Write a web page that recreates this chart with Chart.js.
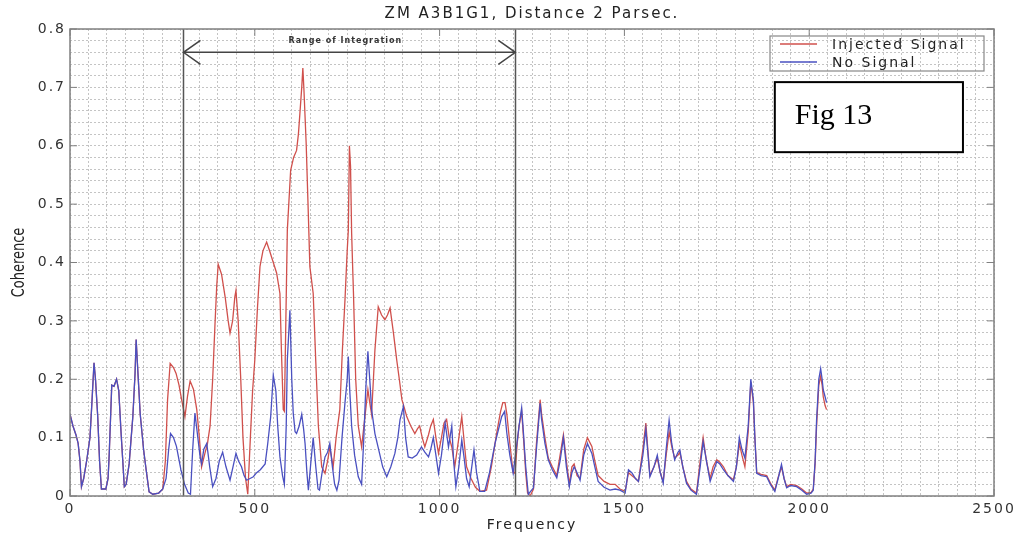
<!DOCTYPE html>
<html>
<head>
<meta charset="utf-8">
<title>ZM A3B1G1, Distance 2 Parsec.</title>
<script src="https://cdn.jsdelivr.net/npm/chart.js@4.4.1/dist/chart.umd.min.js"></script>
<style>
  html, body { margin: 0; padding: 0; background: #fff; overflow: hidden; }
  canvas { display: block; }
</style>
</head>
<body>
<canvas id="coh" width="1029" height="544"></canvas>
<script>
// Coherence vs frequency.
// Below ~250 Hz both curves lie on top of each other.
const lowFreq = [0, 8, 16, 22, 27, 31, 37, 45, 54, 58, 65, 69, 75, 80, 85, 97, 103, 106, 113, 119,
  126, 132, 138, 147, 152, 160, 170, 176, 179, 183, 190, 199, 206, 214, 224, 240, 251];
const lowVal = [0.14, 0.12, 0.105, 0.09, 0.06, 0.016, 0.03, 0.06, 0.1, 0.145, 0.228, 0.2, 0.136, 0.06, 0.012, 0.012, 0.03, 0.07, 0.19, 0.188,
  0.2, 0.18, 0.11, 0.016, 0.02, 0.055, 0.136, 0.21, 0.268, 0.22, 0.14, 0.08, 0.045, 0.007, 0.003, 0.005, 0.012];

// Injected Signal (red)
const injFreq = [
  258, 264, 271, 280, 287, 295, 302, 311, 318, 325,
  334, 343, 350, 356, 365, 372, 379, 386, 392, 397,
  401, 410, 420, 428, 433, 440, 446, 449, 455, 462,
  468, 475, 481, 488, 494, 500, 507, 514, 522, 532,
  540, 550, 559, 568, 572, 577, 580, 584, 588, 597,
  605, 613, 618, 622, 627, 630, 633, 639, 644, 649,
  658, 665, 672, 681, 690, 697, 703, 712, 720, 730,
  737, 744, 750, 753, 756, 759, 762, 765, 767, 773,
  780, 789, 797, 806, 811, 816, 825, 834, 843, 852,
  859, 866, 875, 884, 891, 898, 905, 911, 922, 933,
  940, 946, 953, 960, 970, 976, 983, 990, 997, 1005,
  1012, 1019, 1026, 1033, 1041, 1050, 1060, 1067, 1073, 1085,
  1097, 1109, 1127, 1140, 1155, 1165, 1171, 1177, 1182, 1190,
  1199, 1204, 1210, 1215, 1222, 1227, 1233, 1238, 1245, 1254,
  1262, 1272, 1276, 1285, 1294, 1305, 1317, 1326, 1335, 1343,
  1351, 1358, 1364, 1372, 1380, 1390, 1400, 1412, 1420, 1429,
  1445, 1461, 1475, 1488, 1502, 1511, 1520, 1530, 1538, 1550,
  1558, 1564, 1569, 1580, 1589, 1597, 1605, 1613, 1621, 1628,
  1636, 1645, 1650, 1658, 1668, 1680, 1695, 1705, 1713, 1722,
  1732, 1740, 1750, 1758, 1768, 1780, 1795, 1803, 1811, 1818,
  1826, 1835, 1842, 1849, 1853, 1858, 1870, 1885, 1895, 1907,
  1916, 1925, 1932, 1939, 1950, 1966, 1980, 1993, 2005, 2011,
  2016, 2020, 2026, 2031, 2035, 2038, 2043, 2047];
const injVal = [
  0.06, 0.165, 0.227, 0.22, 0.21, 0.19, 0.165, 0.136, 0.171, 0.197,
  0.183, 0.148, 0.1, 0.05, 0.073, 0.09, 0.12, 0.2, 0.29, 0.36,
  0.397, 0.38, 0.34, 0.3, 0.279, 0.3, 0.341, 0.352, 0.3, 0.2,
  0.1, 0.03, 0.003, 0.1, 0.18, 0.233, 0.32, 0.393, 0.42, 0.435,
  0.42, 0.4, 0.382, 0.347, 0.25, 0.148, 0.145, 0.3, 0.455, 0.558,
  0.58, 0.592, 0.62, 0.655, 0.7, 0.733, 0.695, 0.604, 0.5, 0.393,
  0.347, 0.23, 0.12, 0.05, 0.039, 0.06, 0.084, 0.05, 0.1, 0.148,
  0.25, 0.336, 0.42, 0.455, 0.6, 0.565, 0.45, 0.387, 0.347, 0.2,
  0.12, 0.084, 0.13, 0.182, 0.16, 0.14, 0.25, 0.324, 0.31, 0.302,
  0.31, 0.322, 0.28, 0.233, 0.2, 0.165, 0.15, 0.136, 0.12, 0.107,
  0.115, 0.12, 0.1, 0.084, 0.105, 0.12, 0.131, 0.1, 0.073, 0.1,
  0.125, 0.131, 0.1, 0.084, 0.05, 0.09, 0.136, 0.09, 0.05, 0.03,
  0.015, 0.008, 0.01, 0.05, 0.11, 0.145, 0.16, 0.16, 0.14, 0.09,
  0.04, 0.039, 0.09, 0.12, 0.145, 0.1, 0.04, 0.005, 0, 0.012,
  0.09, 0.165, 0.14, 0.1, 0.065, 0.05, 0.035, 0.07, 0.105, 0.06,
  0.02, 0.05, 0.055, 0.035, 0.03, 0.08, 0.1, 0.085, 0.06, 0.035,
  0.025, 0.02, 0.02, 0.012, 0.008, 0.04, 0.035, 0.03, 0.025, 0.08,
  0.125, 0.075, 0.035, 0.05, 0.065, 0.04, 0.025, 0.07, 0.11, 0.085,
  0.065, 0.07, 0.075, 0.05, 0.025, 0.012, 0.005, 0.06, 0.1, 0.06,
  0.03, 0.05, 0.062, 0.058, 0.05, 0.035, 0.028, 0.05, 0.09, 0.07,
  0.05, 0.11, 0.195, 0.16, 0.1, 0.04, 0.037, 0.035, 0.022, 0.01,
  0.032, 0.05, 0.03, 0.016, 0.02, 0.018, 0.012, 0.005, 0.006, 0.012,
  0.055, 0.12, 0.19, 0.205, 0.19, 0.17, 0.155, 0.148];

// No Signal (blue)
const noFreq = [
  260, 267, 272, 280, 288, 300, 310, 320, 326, 332,
  338, 344, 352, 356, 362, 370, 378, 386, 395, 404,
  413, 422, 433, 441, 449, 456, 464, 471, 478, 487,
  496, 505, 515, 528, 535, 543, 550, 557, 562, 568,
  575, 580, 585, 588, 595, 600, 604, 609, 613, 620,
  627, 632, 636, 641, 645, 652, 658, 665, 671, 675,
  682, 690, 697, 703, 710, 716, 722, 728, 736, 744,
  750, 753, 757, 762, 770, 780, 789, 795, 800, 806,
  812, 816, 825, 835, 846, 857, 868, 879, 887, 893,
  902, 908, 915, 926, 938, 951, 960, 970, 976, 983,
  990, 997, 1005, 1015, 1024, 1033, 1038, 1044, 1052, 1060,
  1067, 1073, 1080, 1087, 1093, 1100, 1109, 1122, 1135, 1150,
  1168, 1176, 1182, 1190, 1199, 1208, 1215, 1222, 1227, 1233,
  1240, 1254, 1262, 1272, 1276, 1285, 1294, 1305, 1317, 1326,
  1335, 1343, 1351, 1358, 1364, 1372, 1380, 1390, 1400, 1412,
  1420, 1429, 1445, 1461, 1475, 1488, 1502, 1511, 1520, 1530,
  1538, 1550, 1558, 1564, 1569, 1580, 1589, 1597, 1605, 1613,
  1621, 1628, 1636, 1645, 1650, 1658, 1668, 1680, 1695, 1705,
  1713, 1722, 1732, 1740, 1750, 1758, 1768, 1780, 1795, 1803,
  1811, 1818, 1826, 1835, 1842, 1849, 1853, 1858, 1870, 1885,
  1895, 1907, 1916, 1925, 1932, 1939, 1950, 1966, 1980, 1993,
  2005, 2011, 2016, 2020, 2026, 2031, 2035, 2038, 2043, 2047];
const noVal = [
  0.03, 0.08, 0.107, 0.1, 0.085, 0.045, 0.02, 0.005, 0.003, 0.08,
  0.142, 0.11, 0.067, 0.055, 0.08, 0.09, 0.05, 0.016, 0.03, 0.06,
  0.075, 0.05, 0.027, 0.05, 0.073, 0.06, 0.05, 0.035, 0.027, 0.03,
  0.033, 0.04, 0.045, 0.055, 0.09, 0.136, 0.207, 0.18, 0.12, 0.067,
  0.035, 0.02, 0.12, 0.233, 0.318, 0.2, 0.142, 0.11, 0.107, 0.12,
  0.14, 0.115, 0.09, 0.04, 0.01, 0.06, 0.1, 0.05, 0.012, 0.01,
  0.04, 0.067, 0.075, 0.09, 0.05, 0.02, 0.01, 0.027, 0.1, 0.16,
  0.2, 0.239, 0.18, 0.12, 0.07, 0.033, 0.02, 0.1, 0.18, 0.248,
  0.19, 0.148, 0.107, 0.08, 0.05, 0.033, 0.05, 0.073, 0.1, 0.131,
  0.153, 0.1, 0.067, 0.065, 0.07, 0.084, 0.075, 0.067, 0.08, 0.1,
  0.07, 0.039, 0.07, 0.125, 0.084, 0.12, 0.06, 0.016, 0.05, 0.096,
  0.062, 0.03, 0.016, 0.05, 0.079, 0.04, 0.008, 0.008, 0.04, 0.09,
  0.136, 0.145, 0.107, 0.07, 0.039, 0.084, 0.12, 0.151, 0.107, 0.05,
  0.003, 0.014, 0.08, 0.159, 0.131, 0.09, 0.062, 0.045, 0.031, 0.06,
  0.1, 0.05, 0.016, 0.04, 0.05, 0.04, 0.027, 0.07, 0.09, 0.073,
  0.05, 0.025, 0.015, 0.01, 0.012, 0.01, 0.005, 0.045, 0.04, 0.03,
  0.025, 0.07, 0.114, 0.07, 0.033, 0.05, 0.07, 0.04, 0.022, 0.08,
  0.13, 0.09, 0.062, 0.075, 0.079, 0.05, 0.022, 0.01, 0.003, 0.05,
  0.093, 0.06, 0.025, 0.04, 0.059, 0.055, 0.045, 0.035, 0.025, 0.05,
  0.1, 0.08, 0.065, 0.12, 0.2, 0.165, 0.1, 0.039, 0.035, 0.033,
  0.02, 0.008, 0.03, 0.054, 0.03, 0.014, 0.018, 0.016, 0.01, 0.003,
  0.005, 0.01, 0.06, 0.131, 0.2, 0.218, 0.2, 0.182, 0.17, 0.16];

// axis labels
const xMajor = [0, 500, 1000, 1500, 2000, 2500];
const yMajor = [0, 0.1, 0.2, 0.3, 0.4, 0.5, 0.6, 0.7, 0.8];

// integration range markers (Hz) and the arrow height
const rangeLo = 307;
const rangeHi = 1205;
const arrowY = 0.76;
const rangeText = 'Range of Integration';
const figLabel = 'Fig 13';
const figBox = { x0: 1907, x1: 2416, y0: 0.589, y1: 0.709 };

const RED = '#d0504c';
const BLUE = '#4a50c0';
const FONT = '"DejaVu Sans", Verdana, sans-serif';
const SPACING = '2px';

const pts = (fx, fy) => fx.map((f, i) => ({ x: f, y: fy[i] }));

// frame, MATLAB-ish inner ticks, integration markers, legend, figure label
const notes = {
  id: 'notes',
  beforeLayout(chart) { chart.ctx.letterSpacing = SPACING; },
  beforeDraw(chart) { chart.ctx.letterSpacing = SPACING; },
  afterDatasetsDraw(chart) {
    const { ctx, chartArea: a, scales: { x, y } } = chart;
    ctx.save();
    ctx.strokeStyle = '#555';
    ctx.lineWidth = 1.5;
    ctx.beginPath();
    [rangeLo, rangeHi].forEach(f => {
      const px = Math.round(x.getPixelForValue(f)) + 0.5;
      ctx.moveTo(px, a.top);
      ctx.lineTo(px, a.bottom);
    });
    ctx.stroke();

    // double arrow
    const xl = x.getPixelForValue(rangeLo), xr = x.getPixelForValue(rangeHi);
    const ay = y.getPixelForValue(arrowY);
    ctx.strokeStyle = '#444';
    ctx.beginPath();
    ctx.moveTo(xl, ay); ctx.lineTo(xr, ay);
    ctx.moveTo(xl + 17, ay - 12); ctx.lineTo(xl, ay); ctx.lineTo(xl + 17, ay + 12);
    ctx.moveTo(xr - 17, ay - 12); ctx.lineTo(xr, ay); ctx.lineTo(xr - 17, ay + 12);
    ctx.stroke();

    ctx.letterSpacing = '1px';
    ctx.fillStyle = '#333';
    ctx.font = 'bold 8px ' + FONT;
    ctx.textAlign = 'center';
    ctx.textBaseline = 'middle';
    ctx.fillText(rangeText, x.getPixelForValue(745), y.getPixelForValue(0.779));
    ctx.restore();
  },
  afterDraw(chart) {
    const { ctx, chartArea: a, scales: { x, y } } = chart;
    ctx.save();
    // frame
    ctx.strokeStyle = '#808080';
    ctx.lineWidth = 1.5;
    ctx.strokeRect(a.left, a.top, a.right - a.left, a.bottom - a.top);
    // inward major ticks
    ctx.lineWidth = 1;
    ctx.beginPath();
    xMajor.forEach(v => {
      const px = x.getPixelForValue(v);
      ctx.moveTo(px, a.bottom); ctx.lineTo(px, a.bottom - 7);
      ctx.moveTo(px, a.top); ctx.lineTo(px, a.top + 7);
    });
    yMajor.forEach(v => {
      const py = y.getPixelForValue(v);
      ctx.moveTo(a.left, py); ctx.lineTo(a.left + 7, py);
      ctx.moveTo(a.right, py); ctx.lineTo(a.right - 7, py);
    });
    ctx.stroke();

    // legend box, top right
    const lw = 214, lh = 35;
    const lx = a.right - 224, ly = a.top + 7;
    ctx.strokeStyle = '#888';
    ctx.lineWidth = 1.2;
    ctx.strokeRect(lx, ly, lw, lh);
    ctx.font = '14px ' + FONT;
    ctx.letterSpacing = SPACING;
    ctx.fillStyle = '#222';
    ctx.textAlign = 'left';
    ctx.textBaseline = 'middle';
    chart.data.datasets.forEach((ds, i) => {
      const ry = ly + 8 + i * 18;
      ctx.strokeStyle = ds.borderColor;
      ctx.lineWidth = 1.3;
      ctx.beginPath();
      ctx.moveTo(lx + 10, ry); ctx.lineTo(lx + 47, ry);
      ctx.stroke();
      ctx.fillText(ds.label, lx + 62, ry + 1);
    });

    // Fig 13 box
    const bx0 = x.getPixelForValue(figBox.x0), bx1 = x.getPixelForValue(figBox.x1);
    const by0 = y.getPixelForValue(figBox.y1), by1 = y.getPixelForValue(figBox.y0);
    ctx.fillStyle = '#fff';
    ctx.fillRect(bx0, by0, bx1 - bx0, by1 - by0);
    ctx.strokeStyle = '#000';
    ctx.lineWidth = 2;
    ctx.strokeRect(bx0, by0, bx1 - bx0, by1 - by0);
    ctx.letterSpacing = '0px';
    ctx.fillStyle = '#000';
    ctx.font = '30px "Liberation Serif", "Times New Roman", serif';
    ctx.textBaseline = 'alphabetic';
    ctx.fillText(figLabel, bx0 + 20, by0 + 42);

    // y axis title (the figure is stretched sideways, so stretch it too)
    ctx.translate(19, (a.top + a.bottom) / 2);
    ctx.scale(1.4, 1);
    ctx.rotate(-Math.PI / 2);
    ctx.font = '13px ' + FONT;
    ctx.fillStyle = '#222';
    ctx.textAlign = 'center';
    ctx.textBaseline = 'middle';
    ctx.fillText('Coherence', 0, 0);
    ctx.restore();
  }
};

const gridDash = { display: false, dash: [2, 2] };
const GRID = '#c4c4c4';

new Chart(document.getElementById('coh'), {
  type: 'line',
  data: {
    datasets: [
      {
        label: 'Injected Signal',
        data: pts(lowFreq.concat(injFreq), lowVal.concat(injVal)),
        borderColor: RED,
        borderWidth: 1.3,
        pointRadius: 0,
        tension: 0,
        order: 1
      },
      {
        label: 'No Signal',
        data: pts(lowFreq.concat(noFreq), lowVal.concat(noVal)),
        borderColor: BLUE,
        borderWidth: 1.3,
        pointRadius: 0,
        tension: 0,
        order: 0
      }
    ]
  },
  options: {
    responsive: false,
    animation: false,
    devicePixelRatio: 1,
    layout: { padding: { right: 35 } },
    plugins: {
      legend: { display: false },
      tooltip: { enabled: false },
      title: {
        display: true,
        fullSize: false,
        text: 'ZM A3B1G1, Distance 2 Parsec.',
        color: '#222',
        font: { family: FONT, size: 15, weight: 'normal' },
        padding: { top: 5, bottom: 6 }
      }
    },
    scales: {
      x: {
        type: 'linear',
        min: 0,
        max: 2500,
        afterFit: s => { s.height = 48; },
        ticks: {
          stepSize: 50,
          autoSkip: false,
          maxRotation: 0,
          padding: 5,
          color: '#333',
          font: { family: FONT, size: 14 },
          callback: v => (xMajor.includes(Math.round(v)) ? String(Math.round(v)) : '')
        },
        grid: { color: GRID, drawTicks: false },
        border: gridDash,
        title: {
          display: true,
          text: 'Frequency',
          color: '#222',
          font: { family: FONT, size: 14 },
          padding: { top: 0, bottom: 10 }
        }
      },
      y: {
        min: 0,
        max: 0.8,
        afterFit: s => { s.width = 70; },
        ticks: {
          stepSize: 0.02,
          autoSkip: false,
          padding: 4,
          color: '#333',
          font: { family: FONT, size: 14 },
          callback: v => {
            const k = Math.round(v * 50);
            if (k % 5 !== 0) return '';
            return k === 0 ? '0' : (k / 50).toFixed(1);
          }
        },
        grid: { color: GRID, drawTicks: false },
        border: gridDash
      }
    }
  },
  plugins: [notes]
});
</script>
</body>
</html>
